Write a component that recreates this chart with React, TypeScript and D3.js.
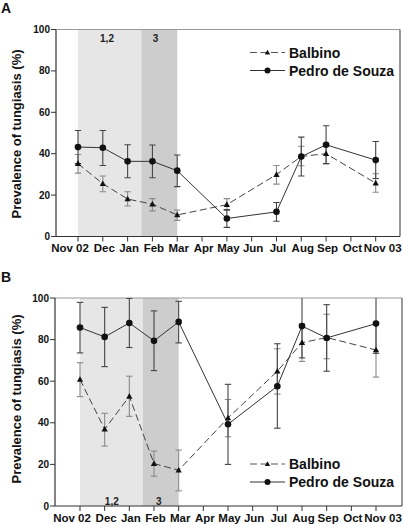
import React from "react";
import * as d3 from "d3";

// ---------- DATA ----------
const monthLabels = ["Nov 02", "Dec", "Jan", "Feb", "Mar", "Apr", "May", "Jun", "Jul", "Aug", "Sep", "Oct", "Nov 03"];
const sampleMonths = [0, 1, 2, 3, 4, 6, 8, 9, 10, 12];
const yTicks = [0, 20, 40, 60, 80, 100];
const seriesNames = ["Balbino", "Pedro de Souza"];

// Panel A
const balbinoA = [35.2, 25.5, 18.1, 15.6, 10.4, 15.4, 29.9, 38.7, 40.0, 25.8];
const balbinoALo = [30.6, 21.6, 14.7, 12.4, 7.8, 12.6, 25.3, 34.2, 35.2, 21.4];
const balbinoAHi = [39.6, 29.2, 21.6, 18.3, 12.8, 18.3, 34.3, 43.6, 44.8, 30.3];
const pedroA = [43.2, 42.9, 36.3, 36.3, 31.8, 8.7, 11.9, 38.6, 44.3, 36.9];
const pedroALo = [35.2, 34.3, 28.4, 28.4, 24.1, 4.4, 7.4, 29.2, 35.2, 28.0];
const pedroAHi = [51.2, 51.2, 44.3, 44.2, 39.4, 13.0, 16.4, 48.0, 53.5, 45.9];

// Panel B
const balbinoB = [60.8, 36.9, 52.7, 20.4, 17.2, 42.3, 64.8, 78.5, 81.0, 75.0];
const balbinoBLo = [52.6, 28.8, 43.1, 14.3, 7.3, 33.3, 53.8, 69.5, 70.8, 62.0];
const balbinoBHi = [68.9, 44.6, 62.4, 26.4, 26.9, 51.2, 75.6, 87.5, 92.2, 88.0];
const pedroB = [85.8, 81.3, 88.0, 79.4, 88.5, 39.3, 57.6, 86.5, 80.8, 87.7];
const pedroBLo = [73.6, 67.0, 76.2, 65.1, 78.4, 20.0, 37.4, 71.2, 64.8, 73.4];
const pedroBHi = [97.9, 95.5, 99.8, 93.8, 98.4, 58.5, 78.0, 102, 96.8, 102];

// shaded periods (month positions) and their labels
const shadePeriods = [
  { from: 0, to: 2.55, label: "1,2" },
  { from: 2.55, to: 4, label: "3" },
];
const shadeLabelPosA = [1.17, 3.13];
const shadeLabelPosB = [1.29, 3.19];

// ---------- STYLE ----------
const FONT = "'Liberation Sans', Arial, Helvetica, sans-serif";
const shadeColors = ["#e6e6e6", "#cdcdcd"];

type Panel = {
  letter: string;
  letterY: number;
  left: number;
  right: number;
  top: number;
  bottom: number;
  x0: number;
  x12: number;
  balbino: number[]; bLo: number[]; bHi: number[];
  pedro: number[]; pLo: number[]; pHi: number[];
  legendY: number;
  shadeLabelY: number;
  shadeLabelPos: number[];
  titleY: number;
};

const panels: Panel[] = [
  {
    letter: "A", letterY: 13,
    left: 56, right: 400, top: 29.5, bottom: 236.5,
    x0: 78, x12: 375.7,
    balbino: balbinoA, bLo: balbinoALo, bHi: balbinoAHi,
    pedro: pedroA, pLo: pedroALo, pHi: pedroAHi,
    legendY: 52.5, shadeLabelY: 42, shadeLabelPos: shadeLabelPosA, titleY: 134,
  },
  {
    letter: "B", letterY: 282,
    left: 55, right: 402, top: 298, bottom: 506,
    x0: 80, x12: 376,
    balbino: balbinoB, bLo: balbinoBLo, bHi: balbinoBHi,
    pedro: pedroB, pLo: pedroBLo, pHi: pedroBHi,
    legendY: 464, shadeLabelY: 504.5, shadeLabelPos: shadeLabelPosB, titleY: 399,
  },
];

function Triangle({ x, y, s, fill }: { x: number; y: number; s: number; fill: string }) {
  const p = d3.path();
  p.moveTo(x, y - s);
  p.lineTo(x + s * 0.95, y + s * 0.7);
  p.lineTo(x - s * 0.95, y + s * 0.7);
  p.closePath();
  return <path d={p.toString()} fill={fill} />;
}

function PanelChart({ pn, idx }: { pn: Panel; idx: number }) {
  const x = d3.scaleLinear().domain([0, 12]).range([pn.x0, pn.x12]);
  const y = d3.scaleLinear().domain([0, 100]).range([pn.bottom, pn.top]);
  const clipId = `clip${idx}`;
  const pts = (vals: number[]) => vals.map((v, i) => [x(sampleMonths[i]), y(v)] as [number, number]);
  const line = d3.line();
  const balPts = pts(pn.balbino);
  const pedPts = pts(pn.pedro);
  const cap = 3.2;

  const errBars = (vals: number[], lo: number[], hi: number[], color: string, key: string) =>
    vals.map((_, i) => {
      const cx = x(sampleMonths[i]);
      return (
        <g key={key + i} stroke={color} strokeWidth={1.1}>
          <line x1={cx} x2={cx} y1={y(lo[i])} y2={y(hi[i])} />
          <line x1={cx - cap} x2={cx + cap} y1={y(lo[i])} y2={y(lo[i])} />
          <line x1={cx - cap} x2={cx + cap} y1={y(hi[i])} y2={y(hi[i])} />
        </g>
      );
    });

  const labelDx = (i: number) => (i === 0 ? -8 : i === monthLabels.length - 1 ? 7 : 1.5);
  const legendX1 = 250;
  const legendX2 = 285;
  const legendMid = (legendX1 + legendX2) / 2;

  return (
    <g>
      <defs>
        <clipPath id={clipId}>
          <rect x={pn.left} y={pn.top} width={pn.right - pn.left} height={pn.bottom - pn.top} />
        </clipPath>
      </defs>
      {/* panel letter */}
      <text x={1} y={pn.letterY} fontFamily={FONT} fontWeight="bold" fontSize={14} fill="#111">
        {pn.letter}
      </text>
      {/* shading */}
      {shadePeriods.map((s, i) => (
        <rect key={"sh" + i} x={x(s.from)} y={pn.top} width={x(s.to) - x(s.from)} height={pn.bottom - pn.top} fill={shadeColors[i]} />
      ))}
      {shadePeriods.map((s, i) => (
        <text key={"shl" + i} x={x(pn.shadeLabelPos[i])} y={pn.shadeLabelY} textAnchor="middle"
          fontFamily={FONT} fontWeight="bold" fontSize={10} fill="#222">
          {s.label}
        </text>
      ))}
      {/* frame */}
      <line x1={pn.left} x2={pn.right} y1={pn.top} y2={pn.top} stroke="#9a9a9a" strokeWidth={1.2} />
      <line x1={pn.right} x2={pn.right} y1={pn.top} y2={pn.bottom} stroke="#555" strokeWidth={1.2} />
      <line x1={pn.left} x2={pn.left} y1={pn.top} y2={pn.bottom} stroke="#333" strokeWidth={1.2} />
      <line x1={pn.left} x2={pn.right} y1={pn.bottom} y2={pn.bottom} stroke="#333" strokeWidth={1.2} />
      {/* y ticks */}
      {yTicks.map((t) => (
        <g key={"yt" + t}>
          <line x1={pn.left - 5} x2={pn.left} y1={y(t)} y2={y(t)} stroke="#333" strokeWidth={1} />
          <text x={pn.left - 6} y={y(t)} dy="0.35em" textAnchor="end" fontFamily={FONT} fontWeight="bold" fontSize={10} fill="#111">
            {t}
          </text>
        </g>
      ))}
      {/* x ticks */}
      {monthLabels.map((m, i) => (
        <g key={"xt" + i}>
          <line x1={x(i)} x2={x(i)} y1={pn.bottom} y2={pn.bottom + 5} stroke="#333" strokeWidth={1} />
          <text x={x(i) + labelDx(i)} y={pn.bottom + 15.5} textAnchor="middle" fontFamily={FONT} fontWeight="bold" fontSize={11.5} fill="#111">
            {m}
          </text>
        </g>
      ))}
      {/* y title */}
      <text transform={`translate(16,${pn.titleY}) rotate(-90)`} textAnchor="middle" dy="0.35em"
        fontFamily={FONT} fontWeight="bold" fontSize={13} fill="#111">
        Prevalence of tungiasis (%)
      </text>
      {/* data */}
      <g clipPath={`url(#${clipId})`}>
        {errBars(pn.balbino, pn.bLo, pn.bHi, "#8a8a8a", "eb")}
        {errBars(pn.pedro, pn.pLo, pn.pHi, "#444", "ep")}
        <path d={line(balPts) || ""} fill="none" stroke="#444" strokeWidth={1} strokeDasharray="7,3.5" />
        <path d={line(pedPts) || ""} fill="none" stroke="#333" strokeWidth={1} />
        {balPts.map((p, i) => (
          <Triangle key={"bt" + i} x={p[0]} y={p[1]} s={3.3} fill="#111" />
        ))}
        {pedPts.map((p, i) => (
          <circle key={"pc" + i} cx={p[0]} cy={p[1]} r={3.3} fill="#111" />
        ))}
      </g>
      {/* legend */}
      <g>
        <line x1={legendX1} x2={legendX2} y1={pn.legendY} y2={pn.legendY} stroke="#555" strokeWidth={1} strokeDasharray="7,3.5" />
        <Triangle x={legendMid} y={pn.legendY} s={2.8} fill="#111" />
        <text x={289} y={pn.legendY} dy="0.36em" fontFamily={FONT} fontWeight="bold" fontSize={14} fill="#111">
          {seriesNames[0]}
        </text>
        <line x1={legendX1} x2={legendX2} y1={pn.legendY + 18} y2={pn.legendY + 18} stroke="#333" strokeWidth={1} />
        <circle cx={legendMid} cy={pn.legendY + 18} r={3} fill="#111" />
        <text x={289} y={pn.legendY + 18} dy="0.36em" fontFamily={FONT} fontWeight="bold" fontSize={14} fill="#111">
          {seriesNames[1]}
        </text>
      </g>
    </g>
  );
}

export default function App() {
  return (
    <div style={{ position: "absolute", left: 0, top: 0, width: 403, height: 524, background: "#fff" }}>
      <svg width={403} height={524} style={{ display: "block" }}>
        <rect x={0} y={0} width={403} height={524} fill="#fff" />
        {panels.map((pn, i) => (
          <PanelChart key={i} pn={pn} idx={i} />
        ))}
      </svg>
    </div>
  );
}
